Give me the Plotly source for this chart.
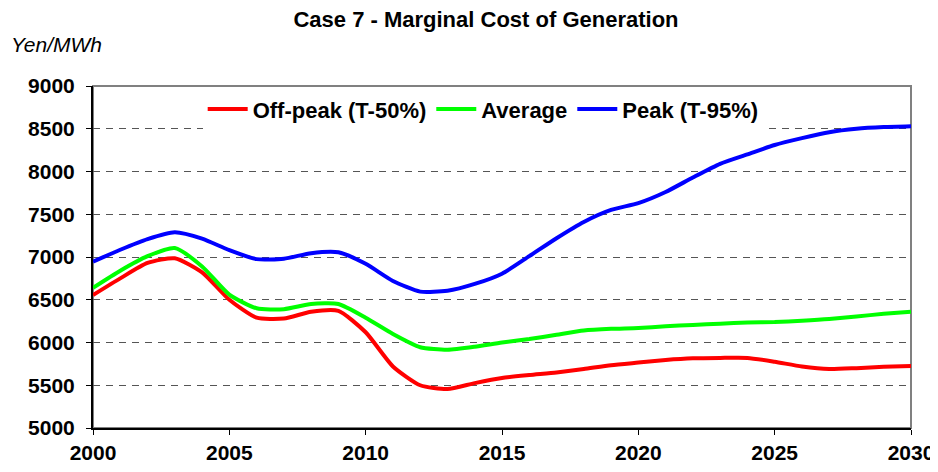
import plotly.graph_objects as go

years = list(range(2000, 2031))

off_peak = [6555, 6750, 6930, 6985, 6820, 6500, 6290, 6280, 6360, 6370,
            6120, 5720, 5500, 5455, 5525, 5585, 5620, 5650, 5690, 5735,
            5765, 5795, 5815, 5820, 5820, 5775, 5720, 5690, 5700, 5715, 5725]

average = [6640, 6840, 7010, 7105, 6890, 6560, 6400, 6390, 6450, 6450,
           6290, 6100, 5945, 5915, 5950, 6000, 6040, 6090, 6140, 6160,
           6170, 6190, 6205, 6220, 6235, 6240, 6255, 6275, 6305, 6335, 6360]

peak = [6945, 7085, 7210, 7290, 7215, 7080, 6975, 6980, 7045, 7055,
        6920, 6720, 6595, 6605, 6685, 6805, 7010, 7220, 7410, 7550,
        7630, 7760, 7930, 8090, 8200, 8310, 8390, 8460, 8500, 8520, 8530]

series = [
    ("Off-peak (T-50%)", off_peak, "#FF0000"),
    ("Average", average, "#00FF00"),
    ("Peak (T-95%)", peak, "#0000FF"),
]

x_ticks = [2000, 2005, 2010, 2015, 2020, 2025, 2030]
y_ticks = [5000, 5500, 6000, 6500, 7000, 7500, 8000, 8500, 9000]

FONT = "Liberation Sans, Arial, sans-serif"

# page body has an 8px margin, so the figure is sized to fit the window
W, H = 930, 464

fig = go.Figure()
for name, vals, col in series:
    fig.add_trace(go.Scatter(
        x=years, y=vals, name=name, mode="lines",
        line=dict(color=col, width=4, shape="spline", smoothing=0.6),
    ))

fig.update_layout(
    width=W, height=H,
    margin=dict(l=85, r=27, t=78, b=44, autoexpand=False),
    paper_bgcolor="white", plot_bgcolor="white",
    font=dict(family=FONT, color="black"),
    title=dict(
        text="Case 7 - Marginal Cost of Generation",
        font=dict(family=FONT, size=22, weight="bold", color="black"),
        x=(486 - 8) / W, xanchor="center", xref="container",
        y=1 - 11 / H, yanchor="middle", yref="container",
    ),
    showlegend=True,
    legend=dict(
        orientation="h",
        x=0.477, xanchor="center",
        y=0.932, yanchor="middle",
        bgcolor="white", borderwidth=0,
        font=dict(family=FONT, size=22, weight="bold", color="black"),
        itemwidth=40,
        tracegroupgap=0,
    ),
    xaxis=dict(
        range=[2000, 2030],
        tickvals=x_ticks,
        ticktext=[str(v) for v in x_ticks],
        showgrid=False, zeroline=False,
        showline=True, linecolor="black", linewidth=2,
        ticks="outside", ticklen=5, tickwidth=1, tickcolor="black",
        tickfont=dict(family=FONT, size=21, weight="bold", color="black"),
        automargin=False,
    ),
    yaxis=dict(
        range=[5000, 9000],
        tickvals=y_ticks,
        ticktext=[str(v) for v in y_ticks],
        showgrid=True, gridcolor="#555555", gridwidth=1, griddash="7px,6px",
        zeroline=False,
        showline=True, linecolor="black", linewidth=2,
        ticks="outside", ticklen=5, tickwidth=1, tickcolor="black",
        tickfont=dict(family=FONT, size=21, weight="bold", color="black"),
        ticklabelstandoff=7,
        automargin=False,
    ),
    shapes=[dict(
        type="rect", xref="paper", yref="paper", x0=0, x1=1, y0=0, y1=1,
        line=dict(color="#808080", width=2), layer="below",
    )],
    annotations=[dict(
        text="Yen/MWh", xref="paper", yref="paper",
        x=(9 - 93) / 818, xanchor="left",
        y=(428 - 45) / 342, yanchor="middle",
        showarrow=False,
        font=dict(family=FONT, size=21, style="italic", color="black"),
    )],
)

fig.write_html("out.html")
